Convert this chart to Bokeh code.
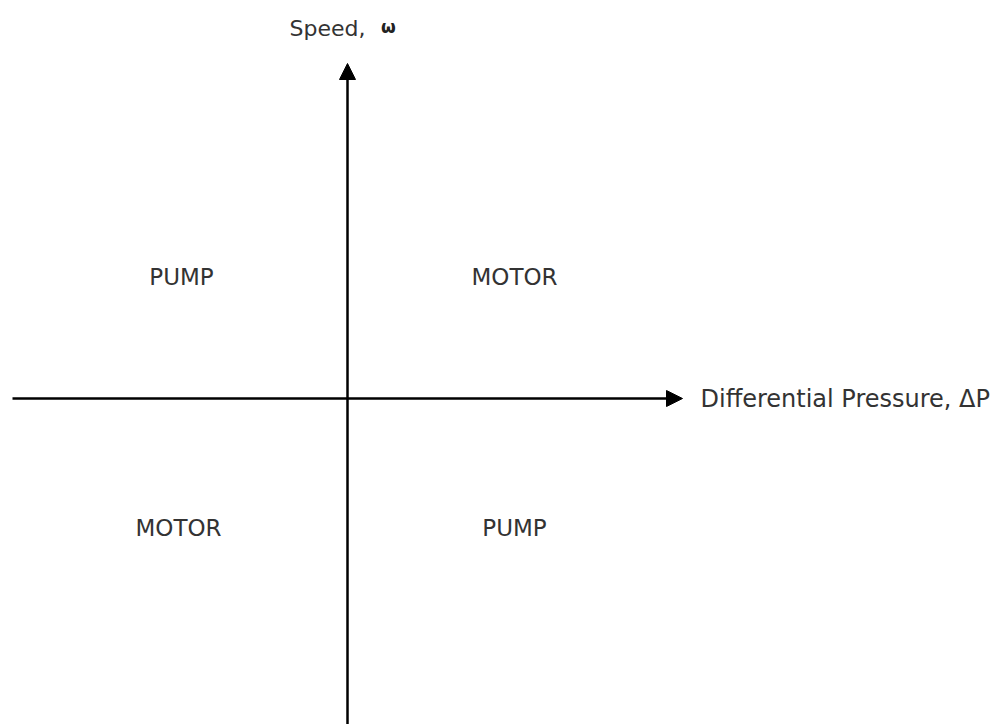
from bokeh.plotting import figure
from bokeh.models import Range1d, Arrow, NormalHead, ColumnDataSource
from bokeh.core.properties import value
from bokeh.embed import file_html
from bokeh.resources import INLINE

# Quadrant labels (data coordinates, origin at axes crossing)
quad_labels = ["PUMP", "MOTOR", "MOTOR", "PUMP"]
quad_x = [-166, 167, -169, 167]
quad_y = [122, 122, -129, -129]

# Axis extents
x_axis_start, x_axis_end = -335, 335
y_axis_start, y_axis_end = -330, 335

x_title = "Differential Pressure, ΔP"
y_title = "Speed,"
y_symbol = "ω"

W, H = 995, 724
p = figure(width=W, height=H, output_backend="svg", toolbar_location=None,
           x_range=Range1d(-347, 648), y_range=Range1d(-326, 398),
           min_border=0)
p.axis.visible = False
p.grid.visible = False
p.outline_line_color = None

for xs, ys, xe, ye in [(x_axis_start, 0, x_axis_end, 0), (0, y_axis_start, 0, y_axis_end)]:
    p.add_layout(Arrow(end=NormalHead(size=16, fill_color="black", line_color="black", line_width=1),
                       x_start=xs, y_start=ys, x_end=xe, y_end=ye,
                       line_width=2.5, line_color="black"))

FONT = value("DejaVu Sans")
src = ColumnDataSource(dict(x=quad_x, y=quad_y, t=quad_labels))
p.text(x="x", y="y", text="t", source=src, text_align="center", text_baseline="middle",
       text_font=FONT, text_font_size="23px", text_color="#333333")

p.text(x=[353], y=[0], text=[x_title], text_align="left", text_baseline="middle",
       text_font=FONT, text_font_size="24px", text_color="#333333")
p.text(x=[-58], y=[370], text=[y_title], text_align="left", text_baseline="middle",
       text_font=FONT, text_font_size="22px", text_color="#333333")
p.text(x=[41], y=[372], text=[y_symbol], text_align="center", text_baseline="middle",
       text_font=FONT, text_font_size="17px", text_font_style="bold",
       text_color="#222222")

open("out.html", "w").write(file_html(p, INLINE))
